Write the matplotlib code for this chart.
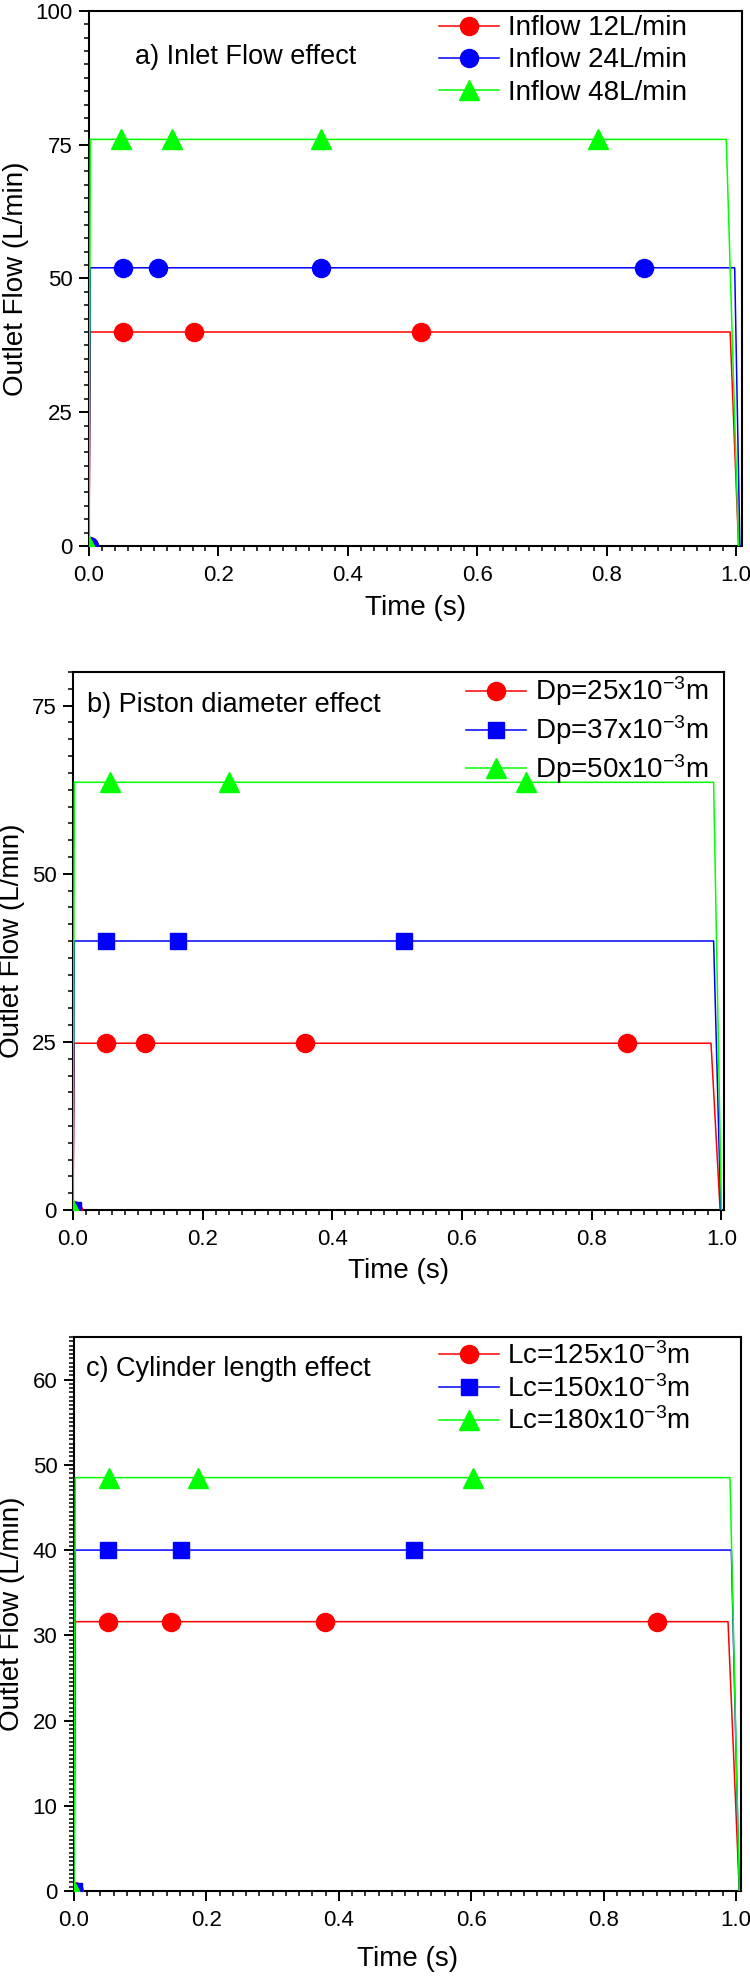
import numpy as np
import matplotlib
matplotlib.use("Agg")
import matplotlib.pyplot as plt
from matplotlib.ticker import MultipleLocator, FormatStrFormatter

plt.rcParams['font.family'] = ['Liberation Sans', 'DejaVu Sans']
plt.rcParams['mathtext.fontset'] = 'custom'
plt.rcParams['mathtext.rm'] = 'Liberation Sans'
plt.rcParams['mathtext.it'] = 'Liberation Sans:italic'
plt.rcParams['mathtext.default'] = 'regular'

# a) inlet flow effect
a_labels = ["Inflow 12L/min", "Inflow 24L/min", "Inflow 48L/min"]
a_levels = [40.0, 52.0, 76.0]
a_drop_start = [0.991, 0.998, 0.985]
a_drop_end = [1.004, 1.006, 1.004]
a_marker_t = [[0.052, 0.162, 0.513],
              [0.052, 0.107, 0.359, 0.858],
              [0.050, 0.129, 0.359, 0.786]]

# b) piston diameter effect
b_labels = ["Dp=25x10$^{-3}$m", "Dp=37x10$^{-3}$m", "Dp=50x10$^{-3}$m"]
b_levels = [24.8, 40.0, 63.6]
b_drop_start = [0.984, 0.988, 0.988]
b_drop_end = [0.998, 0.999, 1.000]
b_marker_t = [[0.051, 0.111, 0.358, 0.855],
              [0.051, 0.162, 0.511],
              [0.057, 0.241, 0.699]]

# c) cylinder length effect
c_labels = ["Lc=125x10$^{-3}$m", "Lc=150x10$^{-3}$m", "Lc=180x10$^{-3}$m"]
c_levels = [31.6, 40.0, 48.5]
c_drop_start = [0.988, 0.993, 0.991]
c_drop_end = [1.005, 1.005, 1.005]
c_marker_t = [[0.051, 0.146, 0.379, 0.880],
              [0.051, 0.162, 0.513],
              [0.053, 0.187, 0.602]]

rise_t = 0.002
colors = ["#FF0000", "#0000FF", "#00FF00"]

W, H = 750, 1978
fig = plt.figure(figsize=(W / 100, H / 100), dpi=100)


def add_panel(left, top, right, bottom):
    return fig.add_axes([left / W, 1 - bottom / H, (right - left) / W, (bottom - top) / H])


def draw_panel(ax, labels, levels, t_start, t_end, marker_t, markers,
               xmax, ymax, ymajor, yminor, title, title_xy, leg_xy, leg_space,
               ylab_x, xlab_y):
    for i in range(3):
        t = [0.0, rise_t] + marker_t[i] + [t_start[i], t_end[i]]
        y = [0.0] + [levels[i]] * (len(marker_t[i]) + 2) + [0.0]
        mk = [0] + list(range(2, 2 + len(marker_t[i])))
        ms = 15 if markers[i] == "^" else (12 if markers[i] == "s" else 13)
        ax.plot(t, y, color=colors[i], lw=1.1, marker=markers[i], markevery=mk,
                ms=ms, mec=colors[i], mfc=colors[i], label=labels[i], zorder=3)

    ax.set_xlim(0, xmax)
    ax.set_ylim(0, ymax)
    ax.xaxis.set_major_locator(MultipleLocator(0.2))
    ax.xaxis.set_minor_locator(MultipleLocator(0.02))
    ax.xaxis.set_major_formatter(FormatStrFormatter("%.1f"))
    ax.yaxis.set_major_locator(MultipleLocator(ymajor))
    ax.yaxis.set_minor_locator(MultipleLocator(yminor))
    ax.tick_params(which="major", direction="out", length=7, width=1.4, labelsize=16)
    ax.tick_params(axis="x", which="major", pad=7)
    ax.tick_params(axis="y", which="major", pad=5)
    ax.tick_params(which="minor", direction="out", length=3.6, width=1.1)
    for s in ax.spines.values():
        s.set_linewidth(1.5)

    ax.set_xlabel("Time (s)", fontsize=20)
    ax.set_ylabel("Outlet Flow (L/min)", fontsize=20)
    ax.yaxis.set_label_coords(ylab_x, 0.5)
    ax.xaxis.set_label_coords(0.5, xlab_y)

    ax.text(title_xy[0], title_xy[1], title, transform=ax.transAxes,
            fontsize=19.5, ha="left", va="center")
    ax.legend(loc="upper left", bbox_to_anchor=leg_xy, frameon=False, fontsize=20,
              handlelength=2.15, handletextpad=0.32, labelspacing=leg_space,
              borderpad=0, borderaxespad=0, numpoints=1)


ax_a = add_panel(89, 11, 742, 546)
draw_panel(ax_a, a_labels, a_levels, a_drop_start, a_drop_end, a_marker_t,
           ["o", "o", "^"], 1.0093, 100, 25, 2.5, "a) Inlet Flow effect",
           (0.0704, 0.914), (0.536, 0.992), 0.22, -0.092, -0.092)

ax_b = add_panel(73, 672, 724, 1210)
draw_panel(ax_b, b_labels, b_levels, b_drop_start, b_drop_end, b_marker_t,
           ["o", "s", "^"], 1.004, 80, 25, 2.5, "b) Piston diameter effect",
           (0.021, 0.9387), (0.604, 0.995), 0.18, -0.074, -0.09)

ax_c = add_panel(74, 1337, 741, 1891)
draw_panel(ax_c, c_labels, c_levels, c_drop_start, c_drop_end, c_marker_t,
           ["o", "s", "^"], 1.0076, 65, 10, 0.5, "c) Cylinder length effect",
           (0.0186, 0.9417), (0.547, 0.991), 0.18, -0.074, -0.099)

plt.savefig("out.png", dpi=100)
